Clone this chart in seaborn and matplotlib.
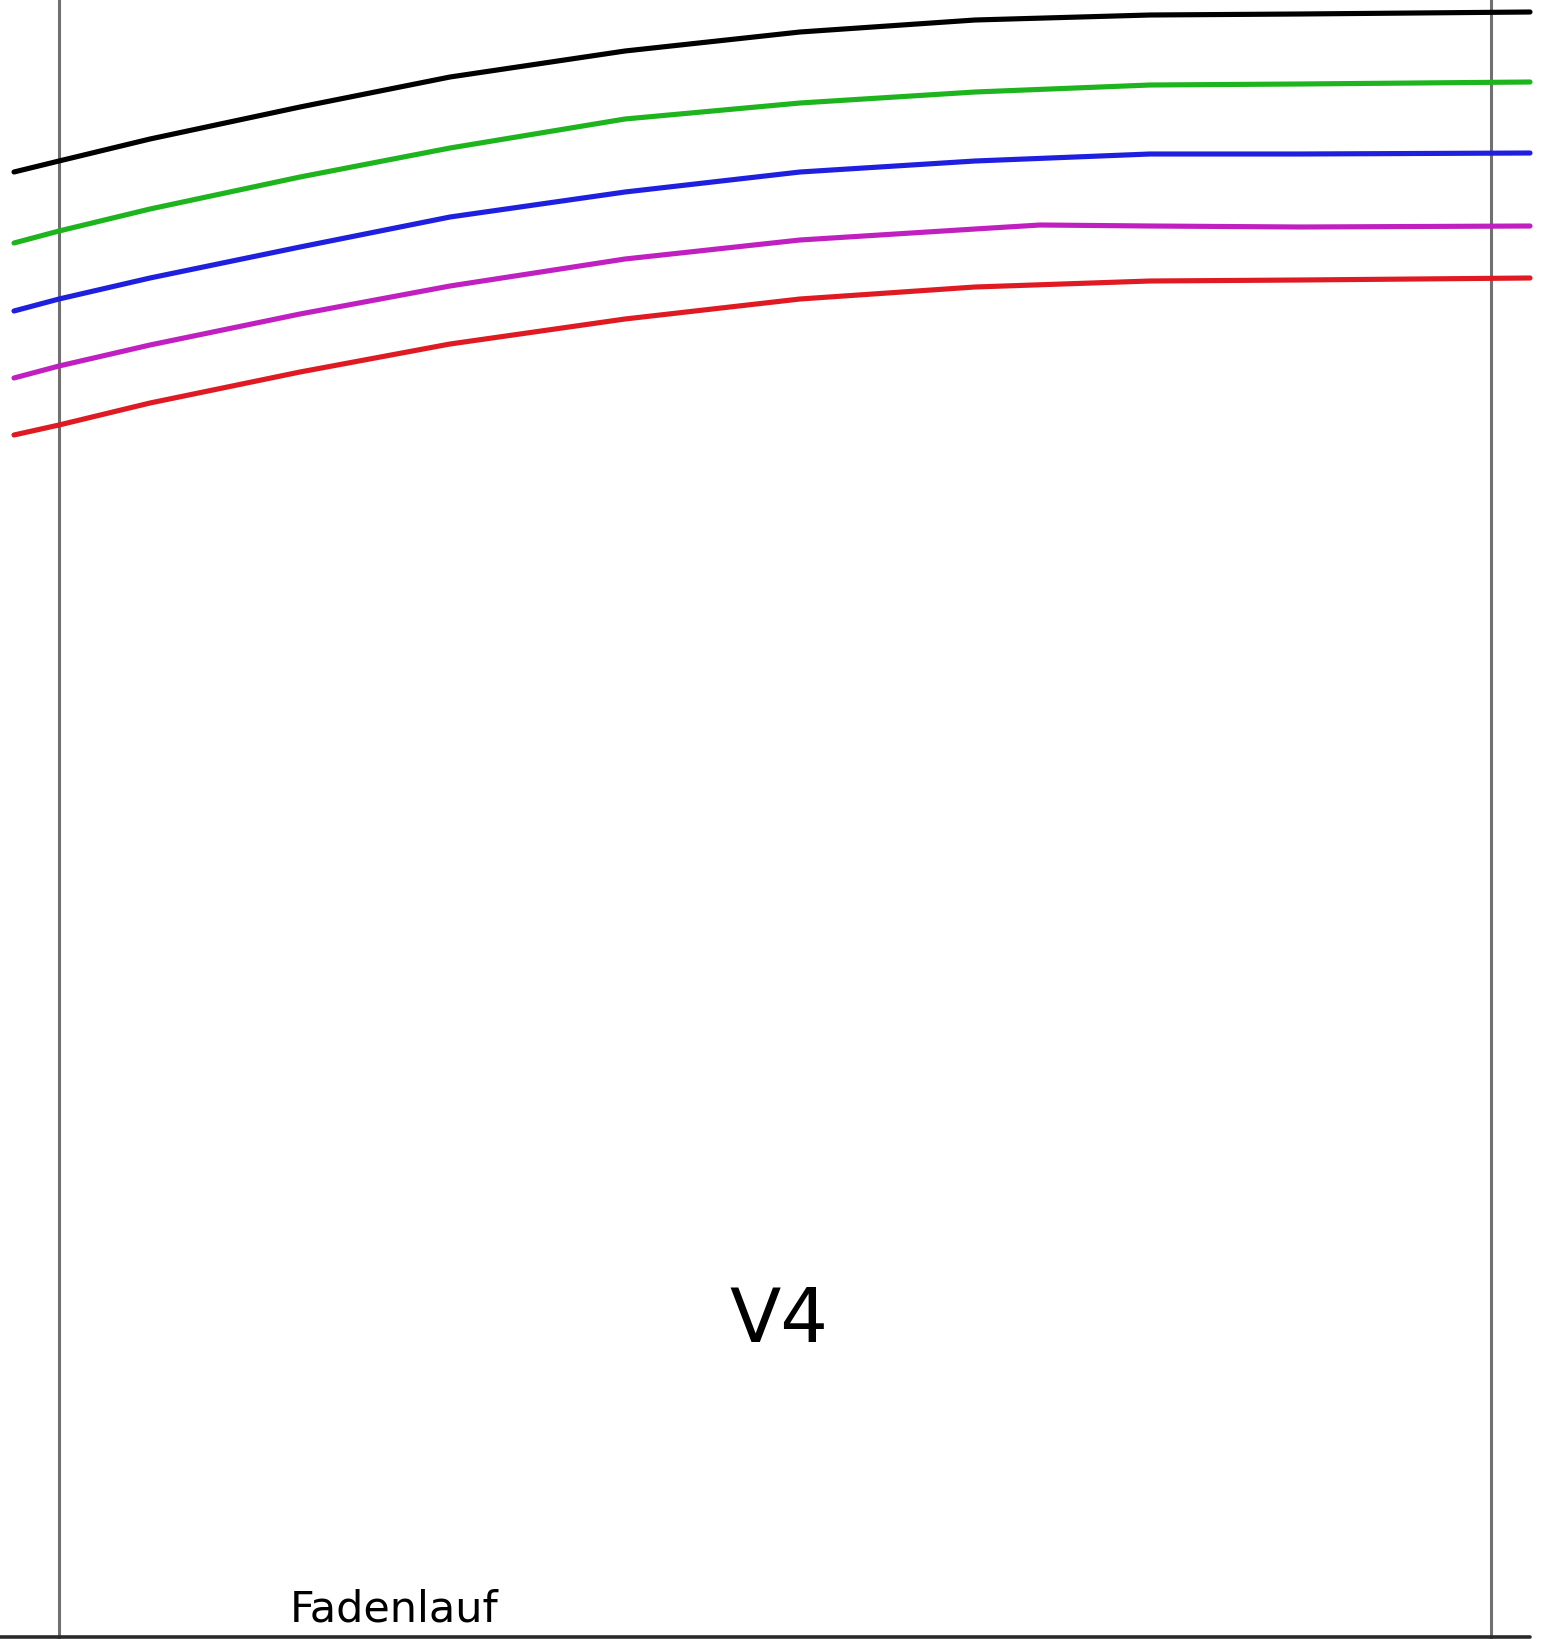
#!/usr/bin/env python
"""
  Schnittteil V4 mit Groessenlinien
"""

import matplotlib
matplotlib.use('Agg')
import matplotlib.pylab as plt
import seaborn as sns
import pandas as pd

# x positions (px along the piece) and the y of each size line
xs = [14, 59, 150, 300, 450, 625, 800, 975, 1150, 1300, 1530]
black = [173, 162, 140, 108, 78, 52, 33, 21, 16, 15, 13]
green = [244, 232, 210, 178, 149, 120, 104, 93, 86, 85, 83]
blue = [312, 300, 279, 248, 218, 193, 173, 162, 155, 155, 154]
red = [436, 426, 404, 373, 345, 320, 300, 288, 282, 281, 279]
# the purple line has a small kink near x=1040
xs_magenta = [14, 59, 150, 300, 450, 625, 800, 975, 1040, 1150, 1300, 1530]
magenta = [379, 367, 346, 315, 287, 260, 241, 230, 226, 227, 228, 227]

sizes = ["schwarz", "gruen", "blau", "lila", "rot"]
colors = ["#000000", "#1eb41e", "#1f1fe0", "#c020c0", "#e01a22"]

guides_x = [59, 1491]
bottom_y = 1638


def main():
  sns.set_style("white")
  fig = plt.figure(figsize=(15.42, 16.40), dpi=100)
  ax = fig.add_axes([0, 0, 1, 1])

  series = [(xs, black), (xs, green), (xs, blue), (xs_magenta, magenta), (xs, red)]
  rows = []
  for name, (sx, sy) in zip(sizes, series):
    for x, y in zip(sx, sy):
      rows.append([name, x, y])
  df = pd.DataFrame(rows, columns=["size", "x", "y"])

  # grain line guides and bottom edge
  for gx in guides_x:
    ax.axvline(gx, color="#707070", lw=2.2, zorder=1)
  ax.plot([0, 1530], [bottom_y, bottom_y], color="#2a2a2a", lw=2.6, zorder=1)

  sns.lineplot(data=df, x="x", y="y", hue="size", hue_order=sizes, palette=colors,
               sort=False, lw=3.7, legend=False, ax=ax, zorder=2)

  ax.text(779, 1322, "V4", fontsize=54, ha="center", va="center", color="black")
  ax.text(394, 1622, "Fadenlauf", fontsize=31, ha="center", va="baseline", color="black")

  ax.set_xlim(0, 1542)
  ax.set_ylim(1640, 0)
  ax.set_axis_off()
  fig.savefig("out.png", dpi=100)


if __name__ == "__main__":
  main()
